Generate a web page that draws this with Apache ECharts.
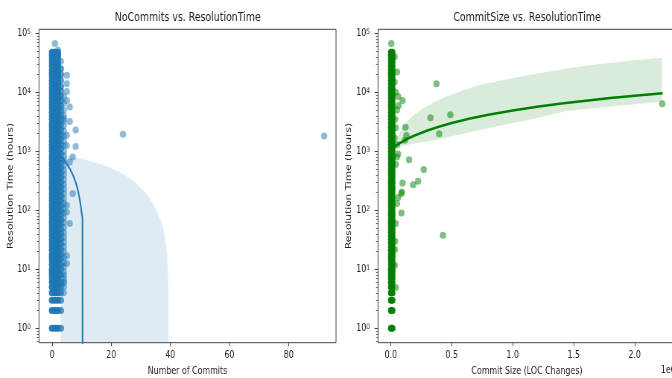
<!DOCTYPE html>
<html>
<head>
<meta charset="utf-8">
<script src="https://cdn.jsdelivr.net/npm/echarts@6.0.0/dist/echarts.min.js"></script>
<style>
    html, body { margin: 0; padding: 0; overflow: hidden; background: #fff; }
    /* 原图横向被压缩过，这里整体按比例压回去 */
    #chart { width: 902px; height: 378px; transform: scaleX(0.745); transform-origin: 0 0; }
</style>
</head>
<body>
<div id="chart"></div>
<script>
// 纵轴范围（对数）
const yMin = 0.57;
const yMax = 117000;
const decadeTicks = [1, 10, 100, 1000, 10000, 100000];
const minorDecades = [0.1, 1, 10, 100, 1000, 10000];
const minorSteps = [2, 3, 4, 5, 6, 7, 8, 9];

// 密集的一列点（解决时间，小时）
const denseHours = [1, 2, 3, 4, 5, 6, 7, 8, 9, 10, 12, 14, 16, 18, 21, 24, 28, 32, 37, 42, 48, 55, 63, 72, 83, 95,
    110, 125, 145, 165, 190, 220, 250, 290, 330, 380, 440, 500, 580, 660, 760, 870, 1000, 1150, 1300, 1500, 1750,
    2000, 2300, 2600, 3000, 3500, 4000, 4600, 5300, 6100, 7000, 8000, 9200, 10500, 12000, 14000, 16000, 18500,
    21000, 24000, 28000, 32000, 37000, 42000, 48000];

// 左图：提交次数
const commitsDenseCols = [0, 1, 2];
const commits3Hours = [1, 2, 3, 4, 5, 6, 8, 10, 12, 15, 18, 22, 27, 33, 40, 48, 58, 70, 85, 100, 120, 145, 175,
    210, 250, 300, 360, 430, 520, 620, 750, 900, 1100, 1300, 1600, 1900, 2300, 2800, 3400, 4100, 5000, 6000, 7200,
    8700, 10500, 12500, 16000, 20000, 25000];
const commits4Hours = [4, 5, 6, 7, 9, 11, 13, 16, 20, 24, 29, 35, 42, 51, 62, 75, 90, 108, 130, 157, 190, 230, 275,
    330, 400, 480, 580, 700, 840, 1000, 1250, 1500, 1800, 2200, 2700, 3300, 4000, 5000, 6500, 8500];
const commitsOutliers = [[1, 67000], [2, 52000], [3, 33500], [5, 19400], [5, 14000], [5, 10300], [5, 7300],
    [6, 5640], [4, 3560], [6, 3200], [8, 2300], [8, 1210], [24, 1940], [92, 1820], [5, 1870], [5, 1260], [7, 800],
    [6, 660], [7, 192], [5, 122], [5, 94], [6, 60], [5, 17], [5, 12.5], [4, 7.9], [4, 6.1]];

// 左图回归线与置信带（下沿在轴外）
const commitsFitX = [2.9, 4, 5, 6, 7, 8, 8.8, 9.4, 9.8, 10.1, 10.3, 10.35];
const commitsFitY = [835, 720, 615, 510, 405, 300, 215, 150, 110, 85, 75, 0.01];
const commitsBandX = [2.9, 5, 7, 10, 13, 16, 19, 22, 25, 28, 31, 33, 35, 36.5, 37.6, 38.4, 38.9, 39.2, 39.35];
const commitsBandUpper = [900, 860, 810, 745, 680, 610, 540, 465, 385, 300, 215, 160, 108, 72, 48, 30, 18, 8, 3];

// 右图：提交规模（LOC）
const sizeDenseCols = [2000, 12000];
const sizeFringe = [[4000, 67000], [30000, 40000], [50000, 22000], [30000, 15000], [40000, 10000], [60000, 8500],
    [96000, 7300], [63000, 6000], [50000, 5000], [35000, 3500], [40000, 2500], [30000, 1700], [50000, 1300],
    [60000, 900], [50000, 800], [40000, 600], [90000, 204], [87000, 192], [60000, 165], [87000, 90], [50000, 130],
    [40000, 60], [35000, 30], [33000, 21.6], [33000, 11.7], [40000, 4.9]];
const sizeOutliers = [[374000, 14000], [325000, 3720], [488000, 4170], [396000, 1990], [120000, 2560],
    [128000, 1860], [115000, 1540], [150000, 720], [270000, 490], [224000, 310], [183000, 272], [96000, 290],
    [428000, 37.7], [2227000, 6430]];

const sizeFitX = [0, 20000, 50000, 100000, 150000, 200000, 300000, 400000, 500000, 650000, 800000, 1000000,
    1200000, 1400000, 1600000, 1800000, 2000000, 2230000];
const sizeFitY = [1110, 1180, 1290, 1480, 1680, 1870, 2250, 2640, 3020, 3600, 4170, 4930, 5700, 6460, 7220,
    7990, 8760, 9640];
const sizeBandX = [0, 30000, 63000, 100000, 170000, 250000, 350000, 445000, 600000, 717000, 900000, 1100000,
    1300000, 1440000, 1700000, 2000000, 2225000];
const sizeBandUpper = [1200, 1500, 1900, 2600, 3800, 5100, 6700, 8300, 11000, 13100, 15900, 19000, 22500, 25300,
    30000, 35000, 38700];
const sizeBandLower = [1000, 1060, 1140, 1230, 1330, 1420, 1520, 1700, 2000, 2250, 2750, 3300, 4100, 4800, 5500,
    6300, 7000];

const FONT = 'DejaVu Sans';
const TEXT = '#222';
const AXIS = '#444';
const BLUE = '#1f77b4';
const GREEN = '#008000';
const DOT = [8.5, 7];

// 组装散点
function columnPoints(cols, hours) {
    const pts = [];
    cols.forEach(x => hours.forEach(h => pts.push([x, h])));
    return pts;
}
const commitsDensePoints = columnPoints(commitsDenseCols, denseHours);
const commitsEdgePoints = columnPoints([3], commits3Hours);
const commitsSparsePoints = columnPoints([4], commits4Hours).concat(commitsOutliers);
const sizeDensePoints = columnPoints(sizeDenseCols, denseHours);
const sizeSparsePoints = sizeFringe.concat(sizeOutliers);

const minorTicks = [];
minorDecades.forEach(d => minorSteps.forEach(m => {
    const v = d * m;
    if (v > yMin && v < yMax) minorTicks.push(v);
}));

function zip(xs, ys) {
    return xs.map((x, i) => [x, ys[i]]);
}

function yAxes(gridIndex, nameGap) {
    return [
        {
            type: 'log', gridIndex: gridIndex, position: 'left', min: yMin, max: yMax,
            name: 'Resolution Time (hours)', nameLocation: 'middle', nameGap: nameGap,
            nameTextStyle: { fontFamily: FONT, fontSize: 10.6, color: TEXT },
            axisLine: { show: false, onZero: false },
            splitLine: { show: false },
            axisTick: { customValues: decadeTicks, length: 4.7, lineStyle: { color: AXIS, width: 1 } },
            axisLabel: {
                customValues: decadeTicks, margin: 11,
                formatter: v => '{b|10}{e|' + Math.round(Math.log10(v)) + '}',
                rich: {
                    b: { fontFamily: FONT, fontSize: 10.5, color: TEXT, lineHeight: 11, padding: [2, 0, 0, 0], verticalAlign: 'bottom' },
                    e: { fontFamily: FONT, fontSize: 7.5, color: TEXT, lineHeight: 7, verticalAlign: 'top' }
                }
            }
        },
        {
            // 次刻度
            type: 'log', gridIndex: gridIndex, position: 'left', min: yMin, max: yMax,
            axisLine: { show: false, onZero: false },
            splitLine: { show: false },
            axisTick: { customValues: minorTicks, length: 2.7, lineStyle: { color: AXIS, width: 0.8 } },
            axisLabel: { show: false }
        }
    ];
}

function xAxis(gridIndex, min, max, ticks, name, fmt) {
    return {
        type: 'value', gridIndex: gridIndex, min: min, max: max,
        name: name, nameLocation: 'middle', nameGap: 21,
        nameTextStyle: { fontFamily: FONT, fontSize: 10.6, color: TEXT },
        axisLine: { show: false, onZero: false },
        splitLine: { show: false },
        axisTick: { customValues: ticks, length: 3.5, lineStyle: { color: AXIS, width: 1 } },
        axisLabel: { customValues: ticks, margin: 7, fontFamily: FONT, fontSize: 10.5, color: TEXT, formatter: fmt }
    };
}

function scatterSeries(xAxisIndex, yAxisIndex, data, color, opacity) {
    return {
        type: 'scatter', xAxisIndex: xAxisIndex, yAxisIndex: yAxisIndex, silent: true,
        symbolSize: DOT, data: data,
        itemStyle: { color: color, opacity: opacity, borderWidth: 0 }
    };
}

// 置信带多边形
function bandSeries(xAxisIndex, yAxisIndex, xs, upper, lower, color) {
    return {
        type: 'custom', xAxisIndex: xAxisIndex, yAxisIndex: yAxisIndex,
        silent: true,
        data: [[xs[0], upper[0]]],
        renderItem: function (params, api) {
            const pts = xs.map((x, i) => api.coord([x, upper[i]]));
            if (lower) {
                for (let i = xs.length - 1; i >= 0; i--) pts.push(api.coord([xs[i], lower[i]]));
            } else {
                pts.push(api.coord([xs[xs.length - 1], yMin]));
                pts.push(api.coord([xs[0], yMin]));
            }
            return { type: 'polygon', shape: { points: pts }, style: { fill: color } };
        }
    };
}

const chart = echarts.init(document.getElementById('chart'));
chart.setOption({
    animation: false,
    backgroundColor: '#fff',
    grid: [
        { left: 52.3, top: 29.3, width: 398.7, height: 313.4, show: true, borderColor: AXIS, borderWidth: 1, outerBoundsMode: 'none' },
        { left: 507.4, top: 29.3, width: 400, height: 313.4, show: true, borderColor: AXIS, borderWidth: 1, outerBoundsMode: 'none' }
    ],
    graphic: [
        { type: 'text', x: 252, y: 17.5, style: { text: 'NoCommits vs. ResolutionTime', font: '12.6px "DejaVu Sans"', fill: TEXT, align: 'center', verticalAlign: 'middle' } },
        { type: 'text', x: 707.4, y: 17.5, style: { text: 'CommitSize vs. ResolutionTime', font: '12.6px "DejaVu Sans"', fill: TEXT, align: 'center', verticalAlign: 'middle' } },
        { type: 'text', x: 887, y: 370.7, style: { text: '1e6', font: '10.5px "DejaVu Sans"', fill: TEXT, align: 'left', verticalAlign: 'middle' } }
    ],
    xAxis: [
        xAxis(0, -4.4, 96, [0, 20, 40, 60, 80], 'Number of Commits', v => String(v)),
        xAxis(1, -105000, 2340000, [0, 500000, 1000000, 1500000, 2000000], 'Commit Size (LOC Changes)', v => (v / 1e6).toFixed(1))
    ],
    yAxis: yAxes(0, 31).concat(yAxes(1, 34)),
    series: [
        scatterSeries(0, 0, commitsDensePoints, BLUE, 0.95),
        scatterSeries(0, 0, commitsEdgePoints, BLUE, 0.75),
        scatterSeries(0, 0, commitsSparsePoints, BLUE, 0.5),
        bandSeries(0, 0, commitsBandX, commitsBandUpper, null, 'rgba(31,119,180,0.15)'),
        {
            type: 'line', xAxisIndex: 0, yAxisIndex: 0, silent: true, clip: true,
            symbol: 'none', data: zip(commitsFitX, commitsFitY),
            lineStyle: { color: BLUE, width: 2 }
        },
        scatterSeries(1, 2, sizeDensePoints, GREEN, 0.95),
        scatterSeries(1, 2, sizeSparsePoints, GREEN, 0.5),
        bandSeries(1, 2, sizeBandX, sizeBandUpper, sizeBandLower, 'rgba(0,128,0,0.15)'),
        {
            type: 'line', xAxisIndex: 1, yAxisIndex: 2, silent: true, clip: true,
            symbol: 'none', data: zip(sizeFitX, sizeFitY),
            lineStyle: { color: GREEN, width: 2.5 }
        }
    ]
});
</script>
</body>
</html>
